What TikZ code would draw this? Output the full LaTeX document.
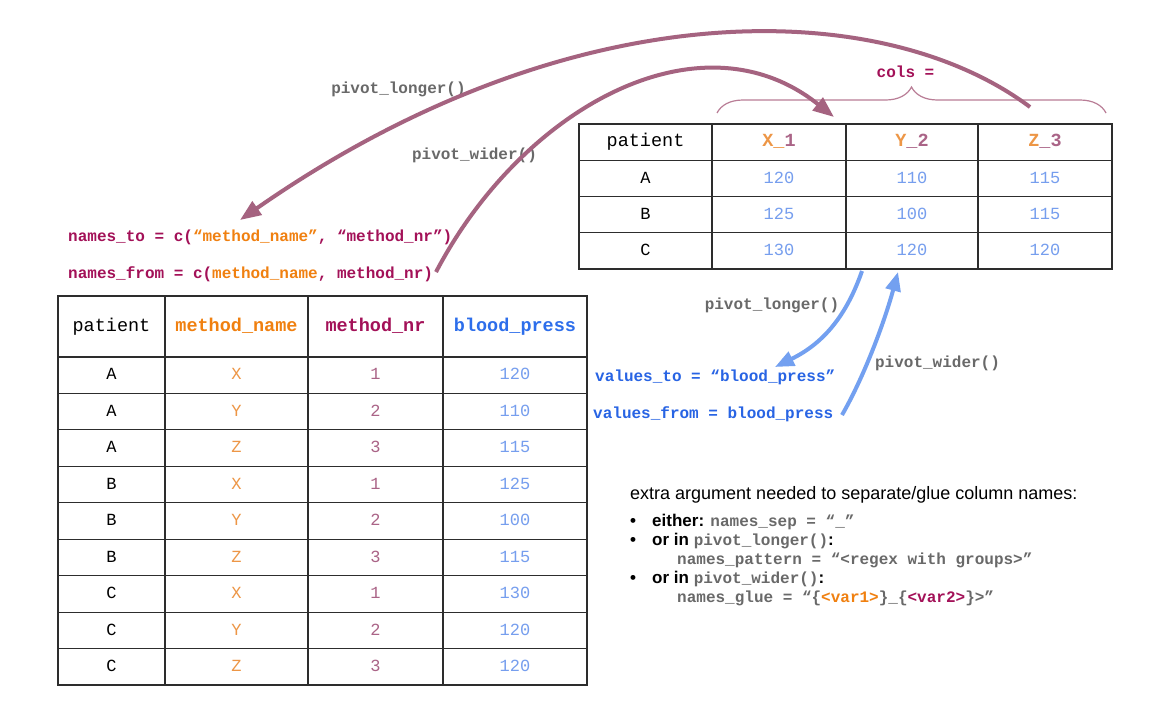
\documentclass[tikz,border=0pt]{standalone}
\usepackage{fontspec}
\setmainfont{Liberation Sans}
\setsansfont{Liberation Sans}
\setmonofont{Liberation Mono}
\usetikzlibrary{arrows.meta,decorations.pathreplacing}

\definecolor{gridline}{RGB}{45,45,45}
\definecolor{arcmauve}{RGB}{165,99,128}
\definecolor{bracemauve}{RGB}{185,125,150}
\definecolor{deepmag}{RGB}{163,17,88}
\definecolor{hdorange}{RGB}{240,128,16}
\definecolor{hdblue}{RGB}{45,110,235}
\definecolor{valblue}{RGB}{40,100,228}
\definecolor{lorange}{RGB}{237,150,70}
\definecolor{lmauve}{RGB}{170,100,135}
\definecolor{lblue}{RGB}{118,158,238}
\definecolor{arrowblue}{RGB}{115,160,240}
\definecolor{codegray}{RGB}{105,105,105}

% gray bold monospace used inside the notes
\newcommand\grcode[1]{{\fontsize{16}{16}\selectfont\ttfamily\bfseries\color{codegray}#1}}

\begin{document}
\begin{tikzpicture}[x=1pt,y=-1pt,
  cell/.style={draw=gridline, line width=1.1pt, inner sep=0pt,
    text height=0.95em, text depth=0pt,
    font=\fontsize{17}{17}\selectfont\ttfamily},
  hcell/.style={cell, font=\fontsize{18.5}{18.5}\selectfont\ttfamily\bfseries},
  code/.style={inner sep=0pt, text height=0.95em, text depth=0pt,
    font=\fontsize{16}{16}\selectfont\ttfamily\bfseries},
  note/.style={inner sep=0pt, anchor=west, text height=1.0em, text depth=0pt,
    font=\fontsize{17}{17}\selectfont\sffamily\bfseries},
  bigarc/.style={draw=arcmauve, line width=4pt,
    -{Triangle[length=21pt,width=16pt]}},
  bluearc/.style={draw=arrowblue, line width=4pt,
    -{Triangle[length=19pt,width=15pt]}},
  curly/.style={draw=bracemauve, line width=1.2pt, decorate,
    decoration={brace, amplitude=26pt, aspect=0.5}}
]
\fill[white] (0,0) rectangle (1172,718);
\useasboundingbox (0,0) rectangle (1172,718);

% ---------------- long table ----------------
\node[hcell, minimum width=107pt, minimum height=61pt,
  font=\fontsize{18.5}{18.5}\selectfont\ttfamily] (L-pat-0) at (111.5,326.5) {patient};
\node[hcell, minimum width=143pt, minimum height=61pt, text=hdorange] (L-mna-0) at (236.5,326.5) {method\_name};
\node[hcell, minimum width=135pt, minimum height=61pt, text=deepmag] (L-mnr-0) at (375.5,326.5) {method\_nr};
\node[hcell, minimum width=144pt, minimum height=61pt, text=hdblue] (L-bp-0) at (515,326.5) {blood\_press};

\foreach \r/\p/\m/\n/\v in {1/A/X/1/120, 2/A/Y/2/110, 3/A/Z/3/115,
                            4/B/X/1/125, 5/B/Y/2/100, 6/B/Z/3/115,
                            7/C/X/1/130, 8/C/Y/2/120, 9/C/Z/3/120} {
  \pgfmathsetmacro\cy{357+36.44*(\r-0.5)}
  \node[cell, minimum width=107pt, minimum height=36.44pt] (L-pat-\r) at (111.5,\cy) {\p};
  \node[cell, minimum width=143pt, minimum height=36.44pt, text=lorange] (L-mna-\r) at (236.5,\cy) {\m};
  \node[cell, minimum width=135pt, minimum height=36.44pt, text=lmauve] (L-mnr-\r) at (375.5,\cy) {\n};
  \node[cell, minimum width=144pt, minimum height=36.44pt, text=lblue] (L-bp-\r) at (515,\cy) {\v};
}

% ---------------- wide table ----------------
\node[hcell, minimum width=133pt, minimum height=36.25pt,
  font=\fontsize{18.5}{18.5}\selectfont\ttfamily] (W-pat-0) at (645.5,142.1) {patient};
\node[hcell, minimum width=134pt, minimum height=36.25pt] (W-x-0) at (779,142.1)
  {\textcolor{lorange}{X\_}\textcolor{lmauve}{1}};
\node[hcell, minimum width=132pt, minimum height=36.25pt] (W-y-0) at (912,142.1)
  {\textcolor{lorange}{Y}\textcolor{lmauve}{\_2}};
\node[hcell, minimum width=134pt, minimum height=36.25pt] (W-z-0) at (1045,142.1)
  {\textcolor{lorange}{Z}\textcolor{lmauve}{\_3}};

\foreach \r/\p/\a/\b/\c in {1/A/120/110/115, 2/B/125/100/115, 3/C/130/120/120} {
  \pgfmathsetmacro\cy{160.25+36.25*(\r-0.5)}
  \node[cell, minimum width=133pt, minimum height=36.25pt] (W-pat-\r) at (645.5,\cy) {\p};
  \node[cell, minimum width=134pt, minimum height=36.25pt, text=lblue] (W-x-\r) at (779,\cy) {\a};
  \node[cell, minimum width=132pt, minimum height=36.25pt, text=lblue] (W-y-\r) at (912,\cy) {\b};
  \node[cell, minimum width=134pt, minimum height=36.25pt, text=lblue] (W-z-\r) at (1045,\cy) {\c};
}

% brace over the value columns
\coordinate (brace-l) at (717,113);
\coordinate (brace-r) at (1106,113);
\draw[curly] (brace-l) -- (brace-r);
\node[code, text=deepmag] (cols) at (905.5,73) {cols =};

% ---------------- argument labels ----------------
\node[code, anchor=west, text=deepmag] (namesto) at (68,236.5)
  {names\_to = c(\textcolor{hdorange}{“method\_name”}, “method\_nr”)};
\node[code, anchor=west, text=deepmag] (namesfrom) at (68,274)
  {names\_from = c(\textcolor{hdorange}{method\_name}, method\_nr)};
\node[code, anchor=west, text=valblue] (valuesto) at (595,377)
  {values\_to = “blood\_press”};
\node[code, anchor=west, text=valblue] (valuesfrom) at (593,414)
  {values\_from = blood\_press};

\node[code, text=codegray] (lab-longer) at (398.5,89) {pivot\_longer()};
\node[code, text=codegray] (lab-wider) at (474.5,155) {pivot\_wider()};
\node[code, text=codegray] (lab-blonger) at (772,305) {pivot\_longer()};
\node[code, text=codegray] (lab-bwider) at (937.5,363) {pivot\_wider()};

% ---------------- arcs ----------------
\coordinate (lo-start) at (1030,107);
\coordinate (lo-end) at (240,220);
\draw[bigarc] (lo-start) .. controls (880,-5) and (570,-10) .. (lo-end);

\coordinate (wi-start) at (436,272);
\coordinate (wi-end) at (834,117);
\draw[bigarc] (wi-start) .. controls (522,108) and (700,10) .. (wi-end);

\coordinate (blo-start) at (862,271);
\coordinate (blo-end) at (775,367);
\draw[bluearc] (blo-start) .. controls (845,320) and (820,345) .. (blo-end);

\coordinate (bwi-start) at (842,415);
\coordinate (bwi-end) at (898,272);
\draw[bluearc] (bwi-start) .. controls (865,375) and (885,320) .. (bwi-end);

% ---------------- notes ----------------
\node[inner sep=0pt, anchor=west, text height=1.0em, text depth=0pt,
  font=\fontsize{18}{18}\selectfont\sffamily] (notehead) at (630,494)
  {extra argument needed to separate/glue column names:};

\foreach \y/\nm in {521/b1, 540/b2, 578.5/b3}
  \node[note] (\nm) at (630,\y) {•};

\node[note] (n1) at (652,521) {either: \grcode{names\_sep = “\_”}};
\node[note] (n2) at (652,540) {or in \grcode{pivot\_longer()}:};
\node[note] (n2b) at (677,559) {\grcode{names\_pattern = “<regex with groups>”}};
\node[note] (n3) at (652,578.5) {or in \grcode{pivot\_wider()}:};
\node[note] (n3b) at (677,597.5)
  {\grcode{names\_glue = “\{\textcolor{hdorange}{<var1>}\}\_\{\textcolor{deepmag}{<var2>}\}>”}};

\end{tikzpicture}
\end{document}
